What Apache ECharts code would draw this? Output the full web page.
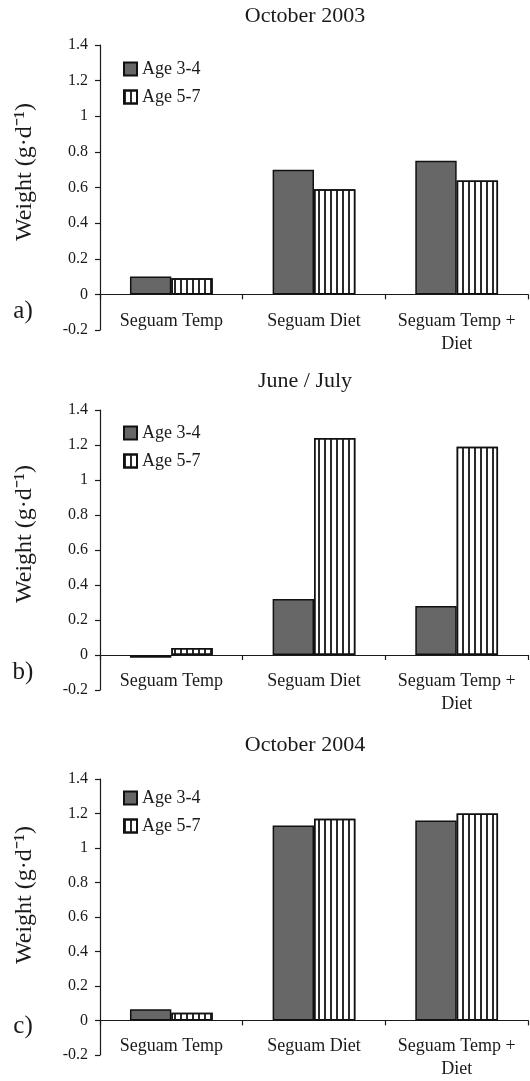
<!DOCTYPE html>
<html>
<head>
<meta charset="utf-8">
<script src="https://cdn.jsdelivr.net/npm/echarts@6/dist/echarts.min.js"></script>
<style>html,body{margin:0;padding:0;background:#fff}#c{width:530px;height:1081px}</style>
</head>
<body>
<div id="c"></div>
<script>
var categories = ['Seguam Temp', 'Seguam Diet', 'Seguam Temp +\nDiet'];
var seriesNames = ['Age 3-4', 'Age 5-7'];
var panelTitles = ['October 2003', 'June / July', 'October 2004'];
var panelLetters = ['a)', 'b)', 'c)'];
var yAxisTitle = 'Weight (g\u00b7d\u207b\u00b9)';
var yMin = -0.2, yMax = 1.4, yStep = 0.2;

var oct2003_age34 = [0.10, 0.70, 0.75];
var oct2003_age57 = [0.09, 0.59, 0.64];
var junJul_age34 = [-0.015, 0.32, 0.28];
var junJul_age57 = [0.04, 1.24, 1.19];
var oct2004_age34 = [0.065, 1.13, 1.16];
var oct2004_age57 = [0.045, 1.17, 1.20];

var panelData = [
  [oct2003_age34, oct2003_age57],
  [junJul_age34, junJul_age57],
  [oct2004_age34, oct2004_age57]
];

var FONT = 'Liberation Serif';
var INK = '#1a1a1a';
var gridTops = [45, 410, 779];
var gridHeights = [285, 280, 279];
var titleY = [16, 381, 745];
var letterY = [311, 672, 1026];
var nameY = [172, 534, 895];
var legendTops = [60, 424, 789];

var grids = [], xAxes = [], yAxes = [], series = [], legends = [], graphics = [];
for (var p = 0; p < 3; p++) {
  var belowZero = gridHeights[p] * (0 - yMin) / (yMax - yMin);
  grids.push({left: 100, width: 428, top: gridTops[p], height: gridHeights[p], containLabel: false});
  xAxes.push({
    type: 'category', gridIndex: p, data: categories,
    axisLine: {onZero: true, lineStyle: {color: INK, width: 1.2}},
    axisTick: {show: true, length: 5, lineStyle: {color: INK, width: 1.2}},
    axisLabel: {interval: 0, margin: 15 - belowZero, fontFamily: FONT, fontSize: 18, color: INK, lineHeight: 23},
    splitLine: {show: false}
  });
  yAxes.push({
    type: 'value', gridIndex: p, min: yMin, max: yMax, interval: yStep,
    axisLine: {show: true, onZero: false, lineStyle: {color: INK, width: 1.2}},
    axisTick: {show: true, length: 5, lineStyle: {color: INK, width: 1.2}},
    axisLabel: {margin: 12, fontFamily: FONT, fontSize: 16, color: INK,
      formatter: function (v) { return String(Math.round(v * 10) / 10); }},
    splitLine: {show: false}
  });
  series.push({
    name: seriesNames[0], type: 'bar', xAxisIndex: p, yAxisIndex: p,
    data: panelData[p][0], barGap: '0%', barCategoryGap: '42%',
    itemStyle: {color: '#676767', borderColor: '#111', borderWidth: 1.5}
  });
  series.push({
    name: seriesNames[1], type: 'bar', xAxisIndex: p, yAxisIndex: p,
    data: panelData[p][1], barGap: '0%', barCategoryGap: '42%',
    itemStyle: {color: '#ffffff', borderColor: '#111', borderWidth: 1.5,
      decal: {symbol: 'rect', symbolSize: 1, dashArrayX: [1.5, 3.3], dashArrayY: [1, 0], rotation: 0, color: '#2a2a2a'}}
  });
  legends.push({
    data: seriesNames, orient: 'vertical', left: 123, top: legendTops[p], padding: 0,
    itemWidth: 13, itemHeight: 13, itemGap: 10, icon: 'rect',
    textStyle: {fontFamily: FONT, fontSize: 18, color: INK}, selectedMode: false
  });
  graphics.push({type: 'text', x: 305, y: titleY[p], silent: true,
    style: {text: panelTitles[p], font: '22px "Liberation Serif"', fill: INK, textAlign: 'center', textVerticalAlign: 'middle'}});
  graphics.push({type: 'text', x: 23, y: letterY[p], silent: true,
    style: {text: panelLetters[p], font: '25px "Liberation Serif"', fill: INK, textAlign: 'center', textVerticalAlign: 'middle'}});
  graphics.push({type: 'text', x: 25, y: nameY[p], rotation: Math.PI / 2, silent: true,
    style: {text: yAxisTitle, font: '24px "Liberation Serif"', fill: INK, textAlign: 'center', textVerticalAlign: 'middle'}});
}

var chart = echarts.init(document.getElementById('c'), null, {renderer: 'canvas'});
chart.setOption({
  animation: false,
  backgroundColor: '#fff',
  grid: grids, xAxis: xAxes, yAxis: yAxes, series: series, legend: legends,
  graphic: graphics
});
</script>
</body>
</html>
